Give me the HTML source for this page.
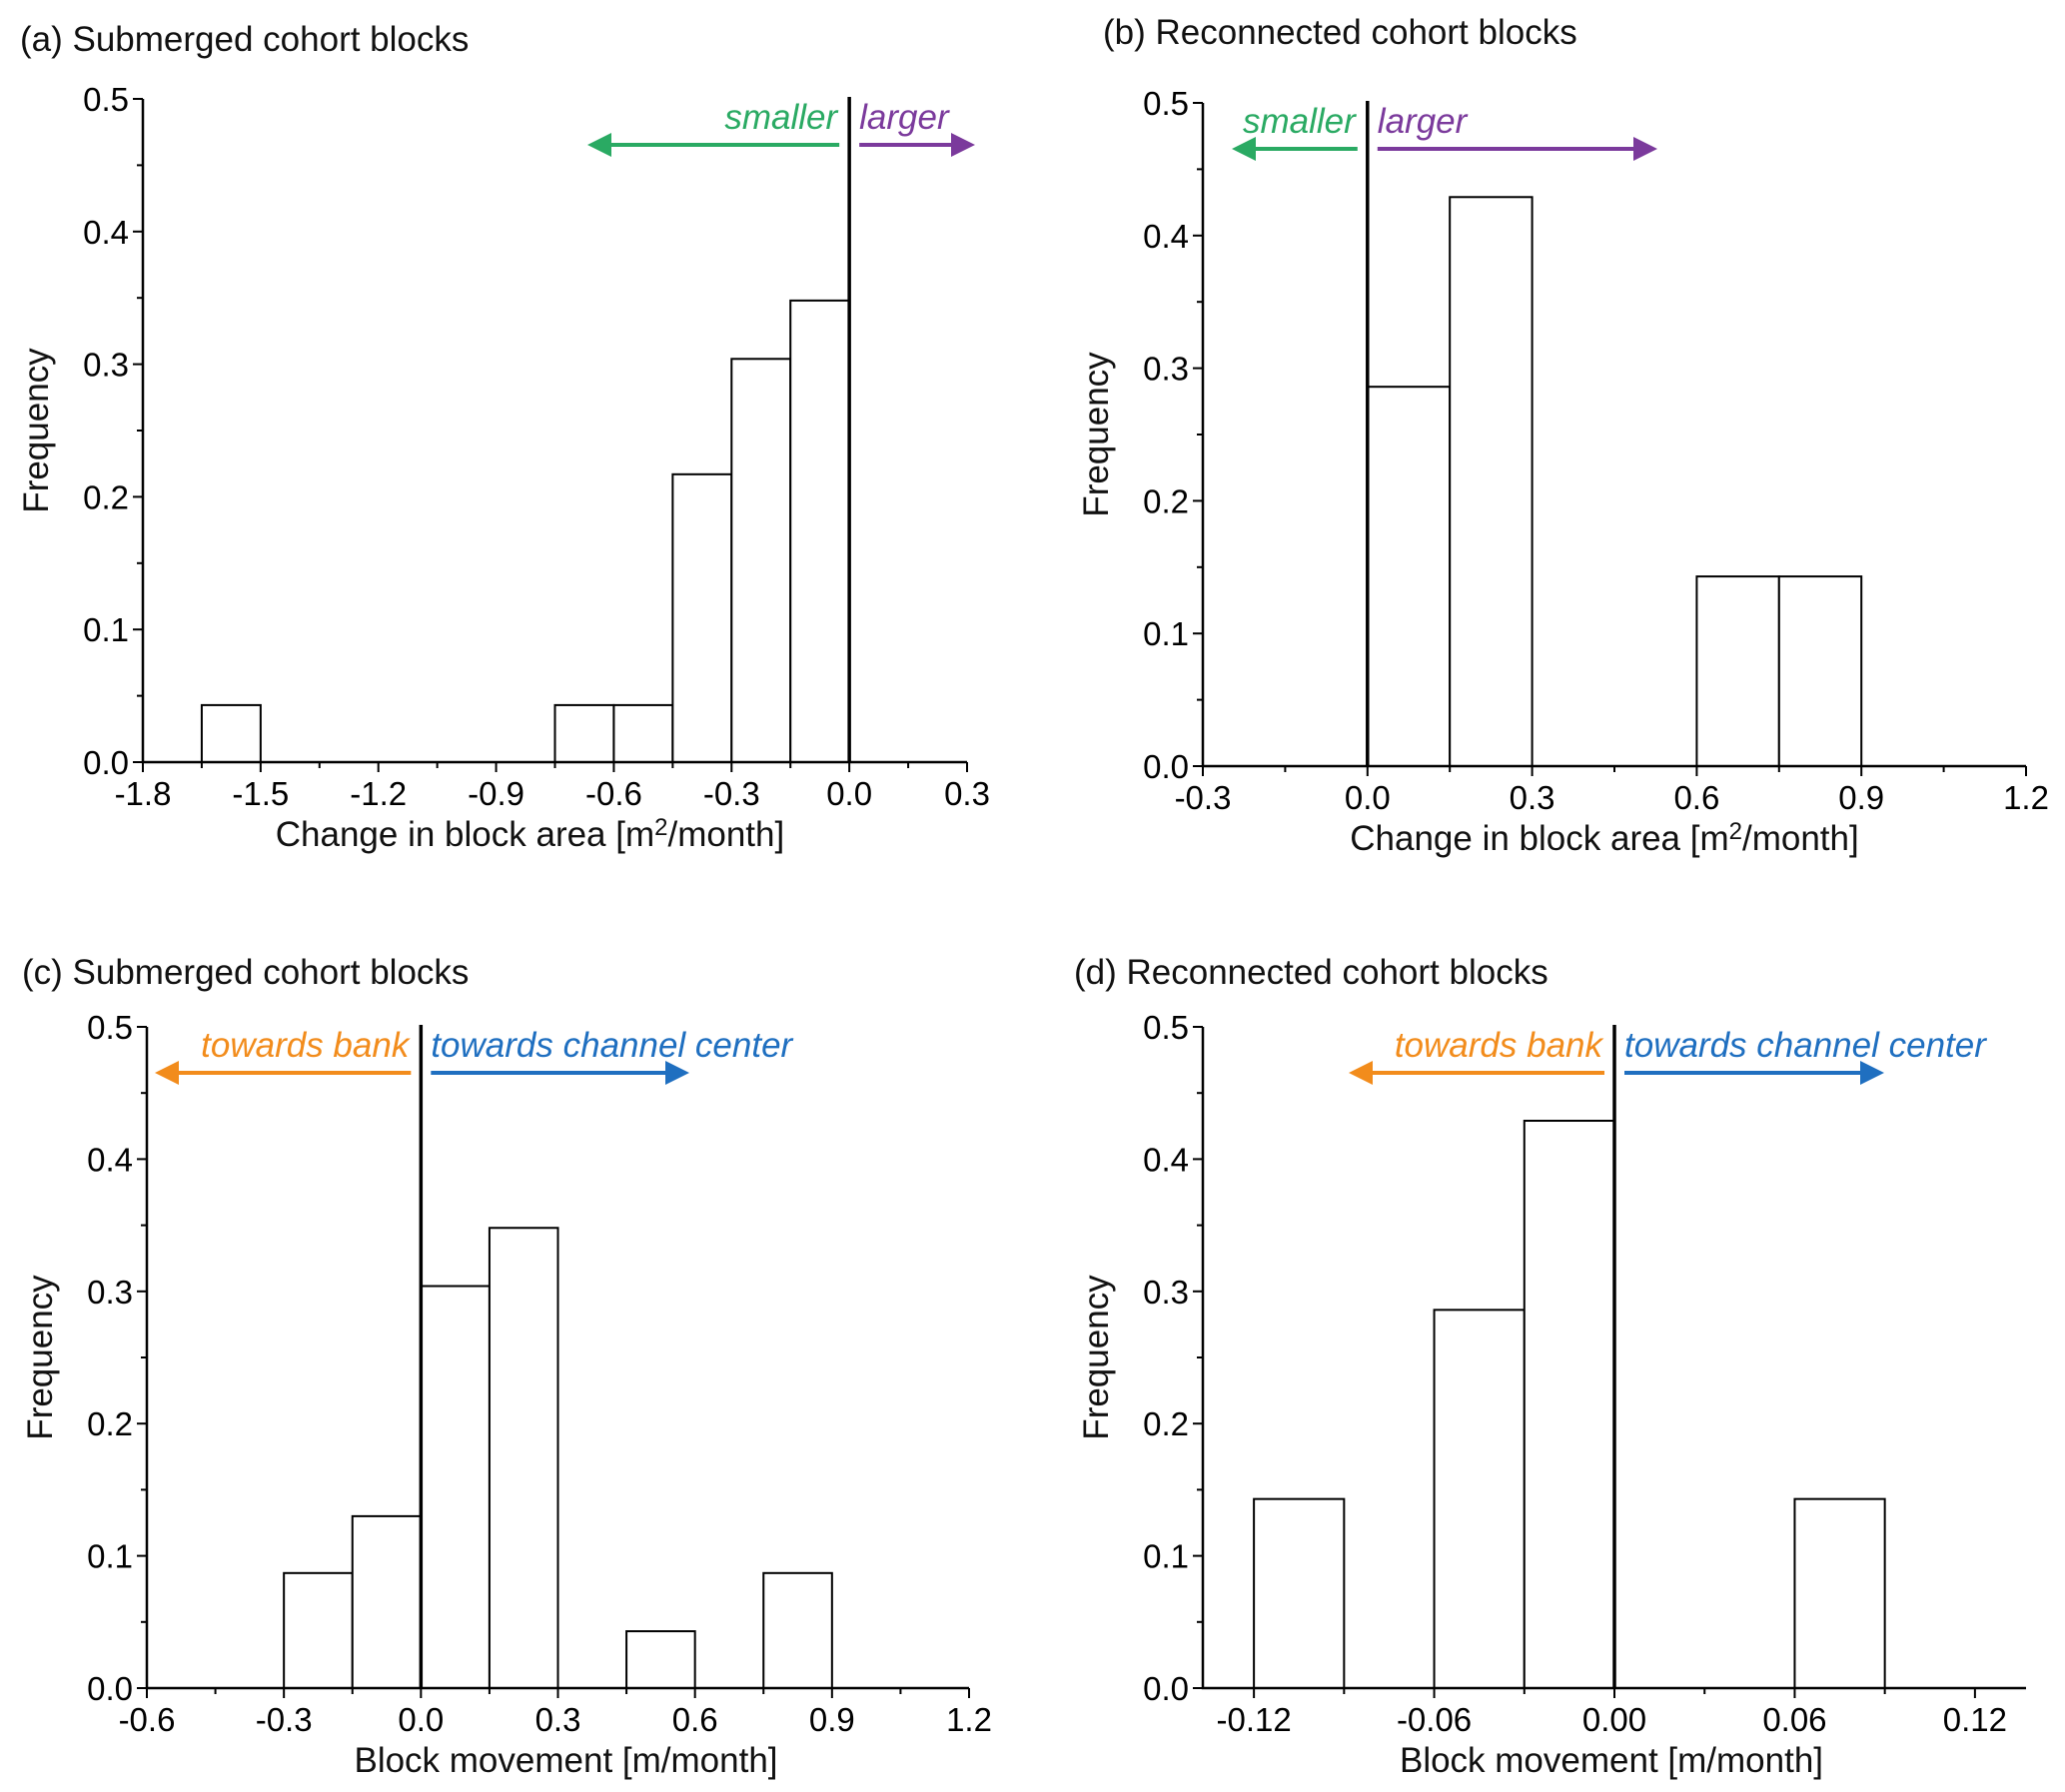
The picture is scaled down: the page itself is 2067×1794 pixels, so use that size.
<!DOCTYPE html>
<html><head><meta charset="utf-8"><style>
html,body{margin:0;padding:0;background:#fff;}
svg{display:block;font-family:"Liberation Sans",sans-serif;}
</style></head><body>
<svg id="fig" width="2067" height="1794" viewBox="0 0 2067 1794" xmlns="http://www.w3.org/2000/svg">
<defs>
<marker id="mg" markerWidth="6" markerHeight="6" refX="5" refY="3" orient="auto" markerUnits="strokeWidth"><path d="M0,0 L6,3 L0,6 z" fill="#2aaa63"/></marker>
<marker id="mp" markerWidth="6" markerHeight="6" refX="5" refY="3" orient="auto" markerUnits="strokeWidth"><path d="M0,0 L6,3 L0,6 z" fill="#7b3a9c"/></marker>
<marker id="mo" markerWidth="6" markerHeight="6" refX="5" refY="3" orient="auto" markerUnits="strokeWidth"><path d="M0,0 L6,3 L0,6 z" fill="#f28c1c"/></marker>
<marker id="mb" markerWidth="6" markerHeight="6" refX="5" refY="3" orient="auto" markerUnits="strokeWidth"><path d="M0,0 L6,3 L0,6 z" fill="#1f6fc0"/></marker>
</defs>
</svg>
<script>
// Panel (a)
const aStarts=[-1.65,-0.75,-0.6,-0.45,-0.3,-0.15];
const aValues=[0.043,0.043,0.043,0.217,0.304,0.348];
const aTicks=["-1.8","-1.5","-1.2","-0.9","-0.6","-0.3","0.0","0.3"];
// Panel (b)
const bStarts=[0,0.15,0.6,0.75];
const bValues=[0.286,0.429,0.143,0.143];
const bTicks=["-0.3","0.0","0.3","0.6","0.9","1.2"];
// Panel (c)
const cStarts=[-0.3,-0.15,0,0.15,0.45,0.75];
const cValues=[0.087,0.13,0.304,0.348,0.043,0.087];
const cTicks=["-0.6","-0.3","0.0","0.3","0.6","0.9","1.2"];
// Panel (d)
const dStarts=[-0.12,-0.06,-0.03,0.06];
const dValues=[0.143,0.286,0.429,0.143];
const dTicks=["-0.12","-0.06","0.00","0.06","0.12"];
const yTicks=["0.0","0.1","0.2","0.3","0.4","0.5"];

const NS="http://www.w3.org/2000/svg";
const svg=document.getElementById('fig');
function mk(tag,attrs,parent){const e=document.createElementNS(NS,tag);for(const k in attrs)e.setAttribute(k,attrs[k]);(parent||svg).appendChild(e);return e;}

function panel(p){
  const g=mk('g',{});
  
  
  const xs=v=>p.x0+(v-p.xmin)/(p.xmax-p.xmin)*(p.x1-p.x0);
  const ys=v=>p.y0-(v/0.5)*(p.y0-p.y1);
  const t=mk('text',{x:p.tx,y:p.ty,'font-size':35,fill:'#111'},g);t.textContent=p.title;
  
  
  p.starts.forEach((s,i)=>{
    const r=mk('rect',{x:xs(s),y:ys(p.values[i]),width:xs(s+p.bw)-xs(s),height:ys(0)-ys(p.values[i]),fill:'#fff',stroke:'#000','stroke-width':2},g);
    
    
  });
  const ax=mk('path',{d:`M${p.x0},${p.y1} L${p.x0},${p.y0} L${p.x1},${p.y0}`,fill:'none',stroke:'#000','stroke-width':2.5},g);
  
  
  yTicks.forEach((lab,i)=>{
    const v=i*0.1,y=ys(v);
    mk('line',{x1:p.x0-10,y1:y,x2:p.x0,y2:y,stroke:'#000','stroke-width':2},g);
    if(i<5)mk('line',{x1:p.x0-6,y1:ys(v+0.05),x2:p.x0,y2:ys(v+0.05),stroke:'#000','stroke-width':2},g);
    const tt=mk('text',{x:p.x0-14,y:y+12,'font-size':33,'text-anchor':'end',fill:'#000'},g);tt.textContent=lab;
    
    
  });
  p.xticks.forEach((lab,i)=>{
    const v=parseFloat(lab),x=xs(v);
    mk('line',{x1:x,y1:p.y0,x2:x,y2:p.y0+10,stroke:'#000','stroke-width':2},g);
    if(i<p.xticks.length-1){const xm=xs(v+p.step/2);mk('line',{x1:xm,y1:p.y0,x2:xm,y2:p.y0+6,stroke:'#000','stroke-width':2},g);}
    const tt=mk('text',{x:x,y:p.y0+43,'font-size':33,'text-anchor':'middle',fill:'#000'},g);tt.textContent=lab;
    
    
  });
  const zl=mk('line',{x1:xs(0),y1:p.y1-2,x2:xs(0),y2:p.y0,stroke:'#000','stroke-width':3.5},g);
  
  
  const xt=mk('text',{x:(p.x0+p.x1)/2+p.xtOff,y:p.y0+84,'font-size':35,'text-anchor':'middle',fill:'#111'},g);
  xt.innerHTML=p.xtitle;
  
  
  const yt=mk('text',{x:0,y:0,'font-size':35,'text-anchor':'middle',fill:'#111',transform:`translate(${p.x0-95},${(p.y0+p.y1)/2}) rotate(-90)`},g);
  yt.textContent='Frequency';
  
  
  const zx=xs(0),ay=p.y1+46,ty=p.y1+30;
  const l1=mk('line',{x1:zx-10,y1:ay,x2:p.la,y2:ay,stroke:p.lc,'stroke-width':4,'marker-end':`url(#${p.lm})`},g);
  
  
  const l2=mk('line',{x1:zx+10,y1:ay,x2:p.ra,y2:ay,stroke:p.rc,'stroke-width':4,'marker-end':`url(#${p.rm})`},g);
  
  
  const lt=mk('text',{x:zx-12,y:ty,'font-size':35,'font-style':'italic','text-anchor':'end',fill:p.lc},g);lt.textContent=p.ltext;
  
  
  const rt=mk('text',{x:zx+10,y:ty,'font-size':35,'font-style':'italic',fill:p.rc},g);rt.textContent=p.rtext;
  
  
}
const xtA='Change in block area [m<tspan font-size="24" dy="-11">2</tspan><tspan dy="11">/month]</tspan>';
panel({id:'a',title:'(a) Submerged cohort blocks',tx:20,ty:51,x0:143,x1:968,y0:763,y1:99,xmin:-1.8,xmax:0.3,step:0.3,bw:0.15,starts:aStarts,values:aValues,xticks:aTicks,xtitle:xtA,xtOff:-25,
  la:592,ra:972,lc:'#2aaa63',rc:'#7b3a9c',lm:'mg',rm:'mp',ltext:'smaller',rtext:'larger'});
panel({id:'b',title:'(b) Reconnected cohort blocks',tx:1104,ty:44,x0:1204,x1:2028,y0:767,y1:103,xmin:-0.3,xmax:1.2,step:0.3,bw:0.15,starts:bStarts,values:bValues,xticks:bTicks,xtitle:xtA,xtOff:-10,
  la:1237,ra:1655,lc:'#2aaa63',rc:'#7b3a9c',lm:'mg',rm:'mp',ltext:'smaller',rtext:'larger'});
panel({id:'c',title:'(c) Submerged cohort blocks',tx:22,ty:985,x0:147,x1:970,y0:1690,y1:1028,xmin:-0.6,xmax:1.2,step:0.3,bw:0.15,starts:cStarts,values:cValues,xticks:cTicks,xtitle:'Block movement [m/month]',xtOff:8,
  la:159,ra:686,lc:'#f28c1c',rc:'#1f6fc0',lm:'mo',rm:'mb',ltext:'towards bank',rtext:'towards channel center'});
panel({id:'d',title:'(d) Reconnected cohort blocks',tx:1075,ty:985,x0:1204,x1:2028,y0:1690,y1:1028,xmin:-0.137,xmax:0.137,step:0.06,bw:0.03,starts:dStarts,values:dValues,xticks:dTicks,xtitle:'Block movement [m/month]',xtOff:-3,
  la:1354,ra:1882,lc:'#f28c1c',rc:'#1f6fc0',lm:'mo',rm:'mb',ltext:'towards bank',rtext:'towards channel center'});
</script>
</body></html>
